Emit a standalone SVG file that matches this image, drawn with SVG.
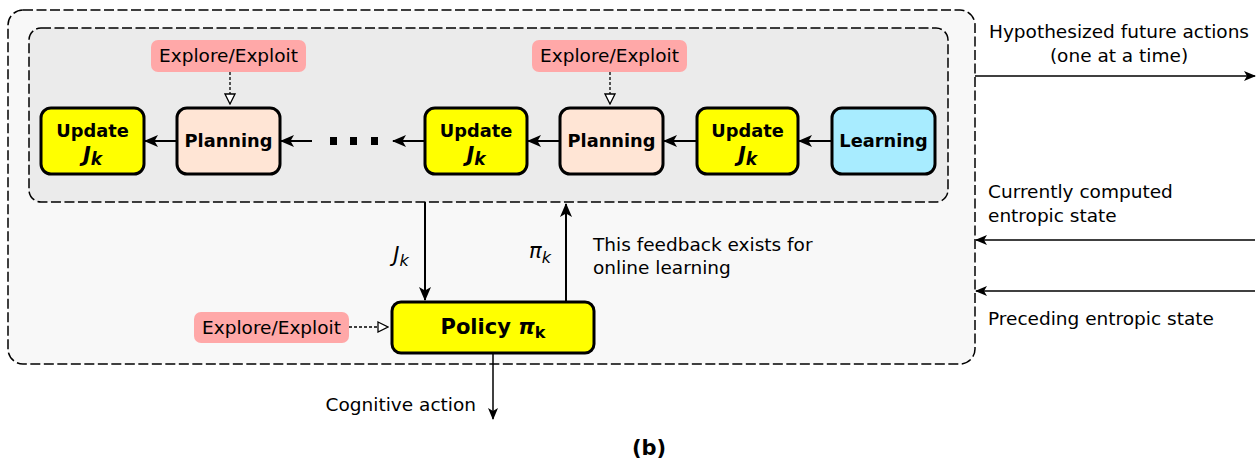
<svg xmlns="http://www.w3.org/2000/svg" width="1260" height="459" viewBox="0 0 1260 459">
<defs>
<style>
text{font-family:"DejaVu Sans","Liberation Sans",sans-serif;fill:#000}
.lbl{font-size:18.5px}
.nt{font-size:17.8px;font-weight:bold;text-anchor:middle}
.jk{font-size:21px;font-style:italic}
.box{stroke:#000;stroke-width:3}
.upd{fill:#ffff00}
.pln{fill:#ffe5d5}
.lrn{fill:#a8ecff}
.ee{fill:#ffa8a8}
.cont{stroke:#000;stroke-width:1.5;stroke-dasharray:10,3.5}
.c{stroke:#000;stroke-width:2;fill:none}
.thin{stroke:#000;stroke-width:1.5;fill:none}
.dsh{stroke:#000;stroke-width:1.3;stroke-dasharray:3,2;fill:none}
</style>
<marker id="ah" viewBox="0 0 12 10" refX="11" refY="5" markerWidth="12" markerHeight="10" markerUnits="userSpaceOnUse" orient="auto">
<path d="M0,0 L12,5 L0,10 L3,5 Z" fill="#000"/>
</marker>
<marker id="ahb" viewBox="0 0 14 12" refX="13" refY="6" markerWidth="14" markerHeight="12" markerUnits="userSpaceOnUse" orient="auto">
<path d="M0,0 L14,6 L0,12 L3.5,6 Z" fill="#000"/>
</marker>
<marker id="oh" viewBox="0 0 12 12" refX="11" refY="6" markerWidth="12" markerHeight="12" markerUnits="userSpaceOnUse" orient="auto">
<path d="M1,1 L11,6 L1,11 Z" fill="#fff" stroke="#000" stroke-width="1.3"/>
</marker>
</defs>
<rect width="1260" height="459" fill="#fff"/>
<g id="outer"><rect class="cont" x="8" y="10" width="967" height="354" rx="15" fill="#f8f8f8"/></g>
<g id="inner"><rect class="cont" x="29" y="28" width="919" height="174" rx="12" fill="#ebebeb"/></g>

<g id="connectors">
<line class="c" x1="177" y1="141" x2="145" y2="141" marker-end="url(#ahb)"/>
<line class="c" x1="312" y1="141" x2="281" y2="141" marker-end="url(#ahb)"/>
<line class="c" x1="425" y1="141" x2="393" y2="141" marker-end="url(#ahb)"/>
<line class="c" x1="560" y1="141" x2="528" y2="141" marker-end="url(#ahb)"/>
<line class="c" x1="697" y1="141" x2="664" y2="141" marker-end="url(#ahb)"/>
<line class="c" x1="832" y1="141" x2="799" y2="141" marker-end="url(#ahb)"/>
<line class="dsh" x1="230" y1="72" x2="230" y2="104" marker-end="url(#oh)"/>
<line class="dsh" x1="610" y1="72" x2="610" y2="104" marker-end="url(#oh)"/>
<line class="dsh" x1="349" y1="327" x2="388" y2="327" marker-end="url(#oh)"/>
<line class="c" x1="425" y1="202" x2="425" y2="300" stroke-width="3" marker-end="url(#ahb)"/>
<line class="c" x1="566" y1="302" x2="566" y2="204" stroke-width="3" marker-end="url(#ahb)"/>
<line class="thin" x1="493" y1="353" x2="493" y2="419" marker-end="url(#ah)"/>
<line class="thin" x1="975" y1="76" x2="1255" y2="76" marker-end="url(#ah)"/>
<line class="thin" x1="1255" y1="240" x2="976" y2="240" marker-end="url(#ah)"/>
<line class="thin" x1="1255" y1="291" x2="976" y2="291" marker-end="url(#ah)"/>
</g>

<g id="dots" fill="#000">
<rect x="330" y="137" width="7" height="8"/>
<rect x="350" y="137" width="7" height="8"/>
<rect x="371" y="137" width="7" height="8"/>
</g>

<g id="ee1"><rect class="ee" x="151" y="40" width="155" height="32" rx="7"/><text class="lbl" x="228.5" y="62" text-anchor="middle">Explore/Exploit</text></g>
<g id="ee2"><rect class="ee" x="532" y="40" width="155" height="32" rx="7"/><text class="lbl" x="609.5" y="62" text-anchor="middle">Explore/Exploit</text></g>
<g id="ee3"><rect class="ee" x="194" y="312" width="155" height="31" rx="7"/><text class="lbl" x="271.5" y="334" text-anchor="middle">Explore/Exploit</text></g>

<g id="update1"><rect class="box upd" x="41" y="108" width="103" height="66" rx="10"/><text class="nt" x="92.5" y="137">Update</text><text class="nt jk" x="92.5" y="162">J<tspan style="font-size:17px" dy="3">k</tspan></text></g>
<g id="planning1"><rect class="box pln" x="177" y="108" width="103" height="66" rx="10"/><text class="nt" x="228.5" y="147">Planning</text></g>
<g id="update2"><rect class="box upd" x="425" y="108" width="102" height="66" rx="10"/><text class="nt" x="476" y="137">Update</text><text class="nt jk" x="476" y="162">J<tspan style="font-size:17px" dy="3">k</tspan></text></g>
<g id="planning2"><rect class="box pln" x="560" y="108" width="103" height="66" rx="10"/><text class="nt" x="611.5" y="147">Planning</text></g>
<g id="update3"><rect class="box upd" x="697" y="108" width="101" height="66" rx="10"/><text class="nt" x="747.5" y="137">Update</text><text class="nt jk" x="747.5" y="162">J<tspan style="font-size:17px" dy="3">k</tspan></text></g>
<g id="learning"><rect class="box lrn" x="832" y="108" width="103" height="66" rx="10"/><text class="nt" x="883.5" y="147">Learning</text></g>
<g id="policy"><rect class="box upd" x="392" y="302" width="202" height="51" rx="9"/><text class="nt" x="493" y="334" style="font-size:21px">Policy <tspan style="font-style:italic">π</tspan><tspan style="font-size:16px" dy="4">k</tspan></text></g>

<g id="labels">
<text x="401" y="262" font-size="21" font-style="italic" text-anchor="middle">J<tspan font-size="16" dy="4">k</tspan></text>
<text x="540" y="258" font-size="21" font-style="italic" text-anchor="middle">π<tspan font-size="16" dy="5">k</tspan></text>
<text class="lbl" x="593" y="251">This feedback exists for</text>
<text class="lbl" x="593" y="274">online learning</text>
<text class="lbl" x="476" y="411" text-anchor="end">Cognitive action</text>
<text class="lbl" x="1119" y="38" text-anchor="middle">Hypothesized future actions</text>
<text class="lbl" x="1119" y="62" text-anchor="middle">(one at a time)</text>
<text class="lbl" x="988" y="198">Currently computed</text>
<text class="lbl" x="988" y="222">entropic state</text>
<text class="lbl" x="988" y="325">Preceding entropic state</text>
<text x="649" y="455" font-size="21" font-weight="bold" text-anchor="middle">(b)</text>
</g>
</svg>
